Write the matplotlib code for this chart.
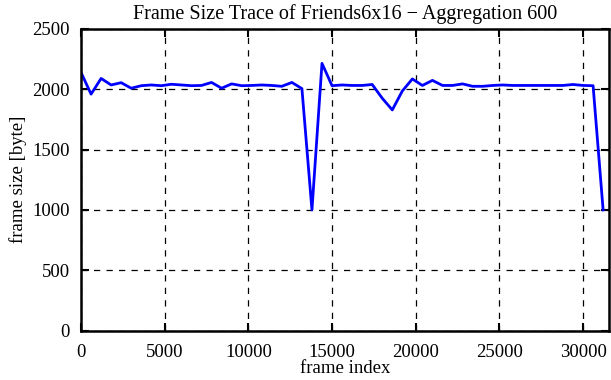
import matplotlib
matplotlib.use("Agg")
import matplotlib.pyplot as plt

# aggregated frame sizes, one value per 600 frames
agg = 600
sizes = [2140, 1960, 2090, 2036, 2055, 2009, 2030, 2036, 2030, 2042,
         2036, 2030, 2032, 2057, 2009, 2045, 2030, 2032, 2036, 2032,
         2025, 2057, 2006, 1000, 2215, 2030, 2036, 2032, 2032, 2040,
         1926, 1829, 1986, 2086, 2032, 2074, 2032, 2032, 2045, 2025,
         2025, 2032, 2036, 2032, 2032, 2032, 2032, 2032, 2032, 2040,
         2032, 2030, 1000]
frames = [i * agg for i in range(len(sizes))]

xticks = [0, 5000, 10000, 15000, 20000, 25000, 30000]
yticks = [0, 500, 1000, 1500, 2000, 2500]

plt.rcParams.update({'font.family': 'Liberation Serif',
                     'font.size': 13.5,
                     'axes.linewidth': 1.8})

fig = plt.figure(figsize=(6.11, 3.8), dpi=100)
ax = fig.add_axes([0.1326, 0.13, 0.8641, 0.7937])

ax.plot(frames, sizes, color='#0000ff', lw=2)

ax.set_xlim(0, 31550)
ax.set_ylim(0, 2500)
ax.set_xticks(xticks)
ax.set_yticks(yticks)
ax.grid(True, color='black', ls=(0, (5, 5)), lw=0.9)
ax.tick_params(direction='in', length=6, width=1.5, top=True, right=True,
               pad=8)
ax.tick_params(axis='x', pad=10)

ax.set_title("Frame Size Trace of Friends6x16 \u2212 Aggregation 600",
             fontsize=14.5, pad=7)
ax.set_xlabel("frame index", labelpad=-1)
ax.set_ylabel("frame size [byte]", labelpad=4)

fig.savefig("out.png", dpi=100)
